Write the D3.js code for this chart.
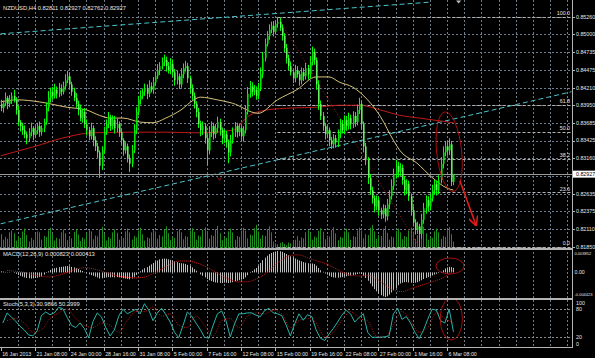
<!DOCTYPE html>
<html>
<head>
<meta charset="utf-8">
<script src="https://cdn.jsdelivr.net/npm/d3@7"></script>
<style>
  body { margin: 0; background: #000; }
  svg { display: block; }
  text { font-family: "Liberation Sans", Arial, sans-serif; font-size: 5.3px; fill: #e6e6e6; }
</style>
</head>
<body>
<div id="chart"></div>
<script>
// ---- data ----
var title = "NZDUSD,H4  0.82811 0.82927 0.82762 0.82927";
var macdTitle = "MACD(12,26,9) 0.000823 0.000413";
var stochTitle = "Stoch(5,3,3) 30.9866 50.2999";

var firstOpen = 0.8397;
// H4 closes, one per bar, 16 Jan 16:00 .. 6 Mar 20:00
var closes = [
  0.8391,0.8398,0.8406,0.8397,0.8403,0.8409,0.8403,0.8388,0.8370,0.8364,
  0.8358,0.8352,0.8346,0.8355,0.8361,0.8351,0.8358,0.8364,0.8355,0.8361,
  0.8370,0.8391,0.8406,0.8415,0.8409,0.8418,0.8412,0.8420,0.8415,0.8423,
  0.8432,0.8438,0.8426,0.8415,0.8406,0.8397,0.8388,0.8376,0.8385,0.8367,
  0.8358,0.8349,0.8361,0.8343,0.8334,0.8325,0.8305,0.8328,0.8355,0.8367,
  0.8376,0.8364,0.8373,0.8361,0.8367,0.8355,0.8343,0.8328,0.8334,0.8317,
  0.8308,0.8328,0.8358,0.8385,0.8403,0.8409,0.8415,0.8420,0.8412,0.8423,
  0.8418,0.8429,0.8438,0.8447,0.8453,0.8459,0.8462,0.8453,0.8447,0.8456,
  0.8444,0.8432,0.8438,0.8426,0.8441,0.8450,0.8453,0.8435,0.8420,0.8409,
  0.8397,0.8385,0.8367,0.8358,0.8364,0.8346,0.8328,0.8355,0.8364,0.8352,
  0.8361,0.8370,0.8358,0.8346,0.8352,0.8340,0.8325,0.8343,0.8355,0.8364,
  0.8355,0.8361,0.8349,0.8358,0.8385,0.8412,0.8423,0.8415,0.8418,0.8409,
  0.8420,0.8441,0.8465,0.8486,0.8498,0.8507,0.8513,0.8504,0.8516,0.8519,
  0.8510,0.8498,0.8480,0.8465,0.8453,0.8444,0.8435,0.8447,0.8441,0.8432,
  0.8444,0.8438,0.8450,0.8441,0.8459,0.8474,0.8462,0.8426,0.8397,0.8379,
  0.8364,0.8352,0.8358,0.8343,0.8337,0.8346,0.8340,0.8352,0.8367,0.8358,
  0.8373,0.8364,0.8376,0.8367,0.8379,0.8370,0.8388,0.8397,0.8367,0.8334,
  0.8314,0.8287,0.8269,0.8257,0.8245,0.8254,0.8239,0.8233,0.8242,0.8230,
  0.8248,0.8260,0.8275,0.8293,0.8305,0.8296,0.8302,0.8284,0.8269,0.8278,
  0.8260,0.8239,0.8221,0.8210,0.8215,0.8204,0.8225,0.8242,0.8254,0.8245,
  0.8257,0.8269,0.8278,0.8269,0.8284,0.8308,0.8325,0.8334,0.8328,0.8337,
  0.82811,0.82927
];
// wick lengths in pips above / below the body
var hiWick = [
  6,4,8,3,7,5,9,4,6,3, 5,7,4,6,8,3,6,5,7,4, 5,8,10,6,7,9,5,8,6,7, 9,8,5,4,6,7,5,8,4,6,
  7,5,8,4,6,5,3,6,8,7, 9,5,7,6,8,4,5,3,6,4, 5,8,9,7,6,8,5,7,6,9, 6,8,7,9,6,7,8,5,6,9,
  7,5,8,4,9,7,8,5,4,6, 5,4,6,5,7,4,6,9,7,5, 6,8,5,4,7,5,4,8,7,6, 5,7,4,6,9,10,8,6,7,5,
  8,10,9,8,7,8,6,7,5,7, 6,5,4,6,5,7,4,8,6,5, 7,6,8,5,9,8,5,4,6,5, 6,5,7,4,5,6,5,7,8,6,
  7,6,8,5,7,6,8,9,5,4, 5,4,6,5,4,7,5,4,6,5, 8,9,10,8,9,6,7,5,6,7, 5,4,6,5,7,4,9,8,7,6,
  7,8,6,5,7,10,9,8,7,9, 5,0
];
var loWick = [
  5,7,4,8,5,6,4,7,6,8, 7,6,9,5,6,8,5,6,7,5, 6,4,5,7,6,4,7,5,6,4, 5,4,7,6,5,6,8,5,7,6,
  8,6,5,9,7,8,18,6,5,4, 6,7,5,8,6,7,6,8,5,7, 12,5,4,6,5,7,5,6,8,5, 4,6,5,4,7,5,6,8,5,6,
  7,8,6,7,5,6,5,7,8,6, 7,8,6,9,7,8,22,6,7,8, 6,7,8,9,7,8,16,6,5,7, 8,6,7,8,5,4,6,7,5,6,
  5,4,6,5,4,6,5,7,4,6, 5,7,6,8,6,5,7,6,5,8, 6,7,5,8,6,5,7,8,9,6, 7,8,6,9,7,6,8,7,6,5,
  6,7,5,8,6,7,5,6,8,9, 8,9,7,8,9,6,8,7,6,8, 6,7,5,6,7,8,6,7,8,6, 7,8,6,7,6,19,7,6,8,7,
  6,5,7,8,6,5,7,6,8,7, 6,5
];
var volumes = [
  1500,900,1200,1000,1700,1900, 1600,800,1300,1100,1800,2100,
  1400,700,1100,900,1600,1800, 1700,900,1300,1200,1900,2200,
  1500,800,1100,1000,1700,2000, 1600,850,1250,1050,1750,2050,
  1450,750,1150,950,1650,1950, 1800,950,1350,1250,2000,2300,
  1550,800,1200,1000,1700,2000, 1650,900,1250,1100,1800,2100,
  1700,900,1300,1150,1900,2200, 1500,800,1150,1050,1700,1950,
  1800,1000,1400,1250,2000,2350, 1600,850,1200,1100,1800,2050,
  1700,950,1300,1200,1900,2150, 1750,900,1350,1250,1950,2250,
  1850,1000,1400,1300,2050,2400, 1600,850,1200,1100,1800,2100,
  1700,900,1300,1200,1900,2200, 1900,1050,1450,1350,2150,2500,
  1800,1000,1400,1300,2050,2350, 1700,700,500,400,550,650,
  450,300,600,500,800,900, 1300,800,1150,1050,1700,1950,
  1650,900,1250,1150,1850,2150, 1750,950,1350,1250,1950,2250,
  1600,850,1200,1100,1800,2100, 1700,900,1300,1200,1900,2200,
  1900,1050,1500,1400,2200,2500, 1800,1000,1400,1300,2100,2400,
  1650,900,1250,1150,1850,2100, 1700,950,1300,1200,1900,2200,
  1800,1000,1400,1300,2000,2300, 1600,900,1200,1100,1800,2100,
  1700,1000,1300,1200,2000,2300, 1500,700
];
// MACD main (histogram), x 1e-5, one per bar
var macdHist = [
  20,15,10,5,5,0,-10,-25,-45,-60, -75,-90,-100,-105,-110,-105,-100,-95,-85,-70,
  -40,-10,20,45,60,75,85,95,100,105, 110,115,110,100,90,75,60,40,25,5,
  -15,-35,-50,-60,-75,-90,-110,-105,-95,-90, -85,-90,-85,-90,-85,-90,-95,-105,-110,-120,
  -125,-110,-80,-45,-10,20,50,75,95,120, 145,170,195,215,235,245,250,245,235,225,
  210,200,185,170,165,160,150,135,115,90, 60,30,0,-35,-60,-90,-120,-140,-155,-170,
  -180,-185,-190,-190,-185,-185,-190,-185,-175,-160, -150,-140,-130,-120,-90,-50,-10,25,55,80,
  120,170,220,265,300,330,350,365,375,385, 380,370,350,330,310,290,270,250,230,215,
  200,185,175,165,160,160,150,120,80,40, 10,-20,-40,-60,-80,-90,-95,-95,-90,-85,
  -75,-70,-60,-55,-45,-40,-30,-20,-30,-60, -100,-150,-200,-250,-300,-340,-380,-410,-430,-442,
  -430,-400,-360,-320,-280,-230,-200,-185,-175,-175, -180,-185,-190,-185,-175,-160,-140,-120,-100,-85,
  -70,-55,-40,-25,-10,10,40,70,90,100, 95,82
];
// MACD signal, x 1e-5, every 4th bar starting at bar 3
var macdSignal = [
  35,20,0,-40,-70,-80,-50,0,55,85,
  65,25,-25,-70,-88,-97,-85,-20,60,150,
  205,205,175,115,35,-60,-130,-170,-168,-120,
  -35,100,225,305,315,265,210,165,90,10,
  -50,-65,-50,-110,-220,-320,-345,-295,-245,-195,
  -145,-80,41
];
// Stochastic %K, every 2nd bar starting at bar 1
var stochMain = [
  50,72,63,54,43,35,24,22,33,66, 74,68,72,84,81,62,45,40,50,38,
  18,53,72,63,40,22,35,65,80,70, 75,80,70,92,78,55,72,82,68,52,
  30,18,45,74,65,50,36,19,17,45, 70,76,55,20,48,70,70,72,72,67,
  64,77,82,72,70,66,46,22,48,70, 56,68,64,35,17,12,26,38,52,67,
  78,70,52,62,70,30,19,19,19,20, 22,70,82,58,64,50,30,16,34,58,
  80,78,55,50,80,31
];
// Stochastic %D, every 4th bar starting at bar 3
var stochSignal = [
  55,60,50,30,35,60,72,80,60,45,
  40,50,45,30,55,75,75,85,65,70,
  45,40,65,45,22,55,60,40,65,72,
  70,78,70,40,55,60,50,20,30,55,
  75,60,55,22,19,45,75,55,30,40,
  72,60,50
];
// moving averages, [bar, price]
var maYellow = [
  [0,0.8400],[8,0.8403],[18,0.8400],[31,0.8392],[40,0.8388],[46,0.8380],[51,0.8376],
  [57,0.8376],[65,0.8370],[71,0.8369],[77,0.8376],[84,0.8388],[90,0.8403],[93,0.8407],
  [101,0.8403],[108,0.8398],[120,0.8383],[129,0.8403],[138,0.8418],[147,0.8437],
  [153,0.8437],[158,0.8429],[164,0.8422],[171,0.8403],[177,0.8378],[183,0.8343],
  [186,0.8328],[194,0.8309],[201,0.8288],[208,0.8272],[211,0.8269]
];
var maRed = [
  [0,0.8320],[15,0.8333],[31,0.8348],[42,0.8354],[62,0.8355],[77,0.8355],[93,0.8354],
  [108,0.8358],[116,0.8380],[124,0.8388],[136,0.8391],[147,0.8392],[158,0.8395],
  [167,0.8395],[177,0.8388],[186,0.8380],[195,0.8376],[211,0.8369]
];

var priceTicks = [0.85260,0.85000,0.84735,0.84475,0.84210,0.83950,0.83685,0.83425,0.83160,0.82895,0.82635,0.82375,0.82110,0.81850];
var timeLabels = ["16 Jan 2013","21 Jan 08:00","24 Jan 00:00","28 Jan 16:00","31 Jan 08:00","5 Feb 00:00","7 Feb 16:00",
                  "12 Feb 08:00","15 Feb 00:00","19 Feb 16:00","22 Feb 08:00","27 Feb 00:00","1 Mar 16:00","6 Mar 08:00"];
var macdTicks = [["0.003852",385],["0.00",0],["-0.004423",-442]];
var stochTicks = [100,80,20,0];
var stochLevels = [80,20];

var fibLevels = ["100.0","61.8","50.0","38.2","23.6","0.0"];
var fibValues = [1,0.618,0.5,0.382,0.236,0];
var fibHigh = [129,0.8526], fibLow = [195,0.8185];
var lastPrice = 0.82927;
var trendUpper = [[0,0.8501],[200,0.8548]];
var trendLower = [[0,0.8219],[266,0.8415]];

// ---- layout ----
var width = 595, height = 358, plotR = 572;

var svg = d3.select('#chart').append('svg')
    .attr('width', width).attr('height', height);

svg.append('rect').attr('width', width).attr('height', height).attr('fill', '#000');

var x = d3.scaleLinear().domain([0, 265]).range([0.66, 0.66 + 265 * 2.146]);
var y = d3.scaleLinear().domain([0.81816, 0.85512]).range([249, 0]);
var yVol = d3.scaleLinear().domain([0, 2600]).range([0, 24]);
var yMacd = d3.scaleLinear().domain([-442, 385]).range([297, 251]);
var yStoch = d3.scaleLinear().domain([0, 100]).range([346, 300]);

var defs = svg.append('defs');
defs.append('clipPath').attr('id', 'clipMain').append('rect').attr('x', 0).attr('y', 0).attr('width', plotR).attr('height', 248);
defs.append('clipPath').attr('id', 'clipMacd').append('rect').attr('x', 0).attr('y', 250).attr('width', plotR).attr('height', 48);
defs.append('clipPath').attr('id', 'clipStoch').append('rect').attr('x', 0).attr('y', 300).attr('width', plotR).attr('height', 48);
defs.append('marker').attr('id', 'arrowHead').attr('viewBox', '0 0 10 10')
    .attr('refX', 9).attr('refY', 5).attr('markerWidth', 6).attr('markerHeight', 6)
    .attr('orient', 'auto-start-reverse')
    .append('path').attr('d', 'M0,0 L10,5 L0,10').attr('fill', 'none').attr('stroke', '#e41c1c').attr('stroke-width', 1.6);

var gridColor = '#6f7c8a';

// vertical grid, every 8 bars, through all panes
var vGrid = d3.range(8, 266, 8);
svg.append('g').selectAll('line').data(vGrid).enter().append('line')
    .attr('x1', d => Math.round(x(d)) + 0.5).attr('x2', d => Math.round(x(d)) + 0.5)
    .attr('y1', 0).attr('y2', 348)
    .attr('stroke', gridColor).attr('stroke-dasharray', '2,2');

// horizontal grid, main pane
svg.append('g').selectAll('line').data(priceTicks).enter().append('line')
    .attr('x1', 0).attr('x2', plotR)
    .attr('y1', d => Math.round(y(d)) + 0.5).attr('y2', d => Math.round(y(d)) + 0.5)
    .attr('stroke', gridColor).attr('stroke-dasharray', '2,2');

// stochastic levels
svg.append('g').selectAll('line').data(stochLevels).enter().append('line')
    .attr('x1', 0).attr('x2', plotR)
    .attr('y1', d => Math.round(yStoch(d)) + 0.5).attr('y2', d => Math.round(yStoch(d)) + 0.5)
    .attr('stroke', '#8a8a8a').attr('stroke-dasharray', '2,2');

var main = svg.append('g').attr('clip-path', 'url(#clipMain)');

// volumes at the foot of the main pane
main.append('g').selectAll('line').data(volumes).enter().append('line')
    .attr('x1', (d, i) => Math.round(x(i)) + 0.5).attr('x2', (d, i) => Math.round(x(i)) + 0.5)
    .attr('y1', 248).attr('y2', d => 248 - yVol(d))
    .attr('stroke', '#1d8f1d').attr('stroke-width', 1);

// fibonacci retracement
var fibRange = fibHigh[1] - fibLow[1];
main.append('line')
    .attr('x1', x(fibHigh[0])).attr('y1', y(fibHigh[1]))
    .attr('x2', x(fibLow[0])).attr('y2', y(fibLow[1]))
    .attr('stroke', '#9a1a1a').attr('stroke-dasharray', '1,2');
main.append('g').selectAll('line').data(fibValues).enter().append('line')
    .attr('x1', x(fibHigh[0])).attr('x2', plotR)
    .attr('y1', d => Math.round(y(fibLow[1] + d * fibRange)) + 0.5)
    .attr('y2', d => Math.round(y(fibLow[1] + d * fibRange)) + 0.5)
    .attr('stroke', '#b4b4b4').attr('stroke-dasharray', '3,2');

// trend channel
[trendUpper, trendLower].forEach(function(t) {
  main.append('line')
      .attr('x1', x(t[0][0])).attr('y1', y(t[0][1]))
      .attr('x2', x(t[1][0])).attr('y2', y(t[1][1]))
      .attr('stroke', '#4cc4cc').attr('stroke-dasharray', '5,3');
});

// bid line
main.append('line').attr('x1', 0).attr('x2', plotR)
    .attr('y1', Math.round(y(lastPrice)) + 0.5).attr('y2', Math.round(y(lastPrice)) + 0.5)
    .attr('stroke', '#9a9a9a');

// moving averages
var maLine = d3.line().x(d => x(d[0])).y(d => y(d[1])).curve(d3.curveMonotoneX);
main.append('path').attr('d', maLine(maRed)).attr('fill', 'none').attr('stroke', '#c01818').attr('stroke-width', 1);
main.append('path').attr('d', maLine(maYellow)).attr('fill', 'none').attr('stroke', '#d6c47c').attr('stroke-width', 1);

// candles
var bars = closes.map(function(c, i) {
  var o = i ? closes[i - 1] : firstOpen;
  return { i: i, o: o, c: c,
           h: Math.max(o, c) + hiWick[i] / 10000,
           l: Math.min(o, c) - loWick[i] / 10000 };
});
var candle = main.append('g').selectAll('g').data(bars).enter().append('g');
candle.append('line')
    .attr('x1', d => Math.round(x(d.i)) + 0.5).attr('x2', d => Math.round(x(d.i)) + 0.5)
    .attr('y1', d => y(d.h)).attr('y2', d => y(d.l))
    .attr('stroke', '#00ff00');
candle.append('rect')
    .attr('x', d => Math.round(x(d.i)))
    .attr('width', 1.6)
    .attr('y', d => y(Math.max(d.o, d.c)))
    .attr('height', d => Math.max(1, Math.abs(y(d.o) - y(d.c))))
    .attr('fill', d => d.c >= d.o ? '#00e600' : '#66f060');

// drawn objects
main.append('ellipse').attr('cx', x(209)).attr('cy', y(0.8326)).attr('rx', 12.5).attr('ry', 40)
    .attr('fill', 'none').attr('stroke', '#c81414').attr('stroke-width', 0.8)
    .attr('transform', 'rotate(-6,' + x(209) + ',' + y(0.8326) + ')');
main.append('line').attr('x1', x(214)).attr('y1', y(0.8283)).attr('x2', x(221.5)).attr('y2', y(0.8217))
    .attr('stroke', '#e41c1c').attr('stroke-width', 1.6).attr('marker-end', 'url(#arrowHead)');
main.append('path')
    .attr('d', 'M' + (x(102) - 2) + ',' + (y(0.8285) - 2) + 'l2,3l2,-3')
    .attr('fill', 'none').attr('stroke', '#b01818').attr('stroke-width', 0.8);
main.append('path')
    .attr('d', 'M' + (x(213.4) - 2.5) + ',0.5h5l-2.5,3z')
    .attr('fill', '#c0c0c0');

// MACD pane
var macd = svg.append('g').attr('clip-path', 'url(#clipMacd)');
macd.append('g').selectAll('line').data(macdHist).enter().append('line')
    .attr('x1', (d, i) => Math.round(x(i)) + 0.5).attr('x2', (d, i) => Math.round(x(i)) + 0.5)
    .attr('y1', yMacd(0)).attr('y2', d => yMacd(d))
    .attr('stroke', '#bdbdbd');
macd.append('path')
    .attr('d', d3.line().x((d, i) => x(3 + 4 * i)).y(d => yMacd(d)).curve(d3.curveMonotoneX)(macdSignal))
    .attr('fill', 'none').attr('stroke', '#d01a1a').attr('stroke-dasharray', '1,1');
macd.append('ellipse').attr('cx', x(209.4)).attr('cy', yMacd(115)).attr('rx', 14).attr('ry', 8)
    .attr('fill', 'none').attr('stroke', '#c81414').attr('stroke-width', 0.8);

// Stochastic pane
var stoch = svg.append('g').attr('clip-path', 'url(#clipStoch)');
stoch.append('path')
    .attr('d', d3.line().x((d, i) => x(3 + 4 * i)).y(d => yStoch(d)).curve(d3.curveMonotoneX)(stochSignal))
    .attr('fill', 'none').attr('stroke', '#c01818').attr('stroke-dasharray', '1,1.5');
stoch.append('path')
    .attr('d', d3.line().x((d, i) => x(1 + 2 * i)).y(d => yStoch(d))(stochMain))
    .attr('fill', 'none').attr('stroke', '#2ab3a8').attr('stroke-width', 1);
stoch.append('ellipse').attr('cx', x(210)).attr('cy', yStoch(59)).attr('rx', 11).attr('ry', 21)
    .attr('fill', 'none').attr('stroke', '#c81414').attr('stroke-width', 0.8);

// pane borders
svg.append('rect').attr('x', 0).attr('y', 248).attr('width', plotR).attr('height', 2).attr('fill', '#b4b4b4');
svg.append('rect').attr('x', 0).attr('y', 298).attr('width', plotR).attr('height', 2).attr('fill', '#b4b4b4');
svg.append('rect').attr('x', 0).attr('y', 347).attr('width', plotR + 1).attr('height', 1).attr('fill', '#b4b4b4');
svg.append('rect').attr('x', plotR).attr('y', 0).attr('width', 1).attr('height', 348).attr('fill', '#b4b4b4');

// price axis
var pLabels = priceTicks.filter(d => Math.abs(y(d) - y(lastPrice)) > 5);
svg.append('g').selectAll('line').data(priceTicks).enter().append('line')
    .attr('x1', plotR).attr('x2', plotR + 3)
    .attr('y1', d => Math.round(y(d)) + 0.5).attr('y2', d => Math.round(y(d)) + 0.5)
    .attr('stroke', '#b4b4b4');
svg.append('g').selectAll('text').data(pLabels).enter().append('text')
    .attr('x', 576).attr('y', d => y(d)).attr('dy', '0.35em')
    .text(d => d3.format('.5f')(d));
svg.append('rect').attr('x', 573).attr('y', y(lastPrice) - 3.5).attr('width', 22).attr('height', 7).attr('fill', '#fff');
svg.append('text').attr('x', 576).attr('y', y(lastPrice)).attr('dy', '0.35em')
    .style('fill', '#000').text(d3.format('.5f')(lastPrice));

// fib labels
svg.append('g').selectAll('text').data(fibLevels).enter().append('text')
    .attr('x', 570).attr('text-anchor', 'end')
    .attr('y', (d, i) => y(fibLow[1] + fibValues[i] * fibRange) - 1.5)
    .text(d => d);

// macd + stoch axes
svg.append('g').selectAll('text').data(macdTicks).enter().append('text')
    .attr('x', 574.5).attr('y', d => Math.min(295, Math.max(254, yMacd(d[1])))).attr('dy', '0.35em')
    .style('font-size', d => d[0].length > 6 ? '4px' : null)
    .text(d => d[0]);
svg.append('g').selectAll('text').data(stochTicks).enter().append('text')
    .attr('x', 576).attr('y', d => Math.min(344, Math.max(303, yStoch(d)))).attr('dy', '0.35em')
    .text(d => d);

// time axis
svg.append('g').selectAll('line').data(timeLabels).enter().append('line')
    .attr('x1', (d, i) => Math.round(x(i * 16)) + 0.5).attr('x2', (d, i) => Math.round(x(i * 16)) + 0.5)
    .attr('y1', 348).attr('y2', 351)
    .attr('stroke', '#b4b4b4');
svg.append('g').selectAll('text').data(timeLabels).enter().append('text')
    .attr('x', (d, i) => x(i * 16) + 1.5).attr('y', 355.5)
    .text(d => d);

// pane titles
svg.append('text').attr('x', 3).attr('y', 10).style('font-size', '5.8px').text(title);
svg.append('text').attr('x', 3).attr('y', 256).style('font-size', '5.8px').text(macdTitle);
svg.append('text').attr('x', 3).attr('y', 306).style('font-size', '5.8px').text(stochTitle);
</script>
</body>
</html>
